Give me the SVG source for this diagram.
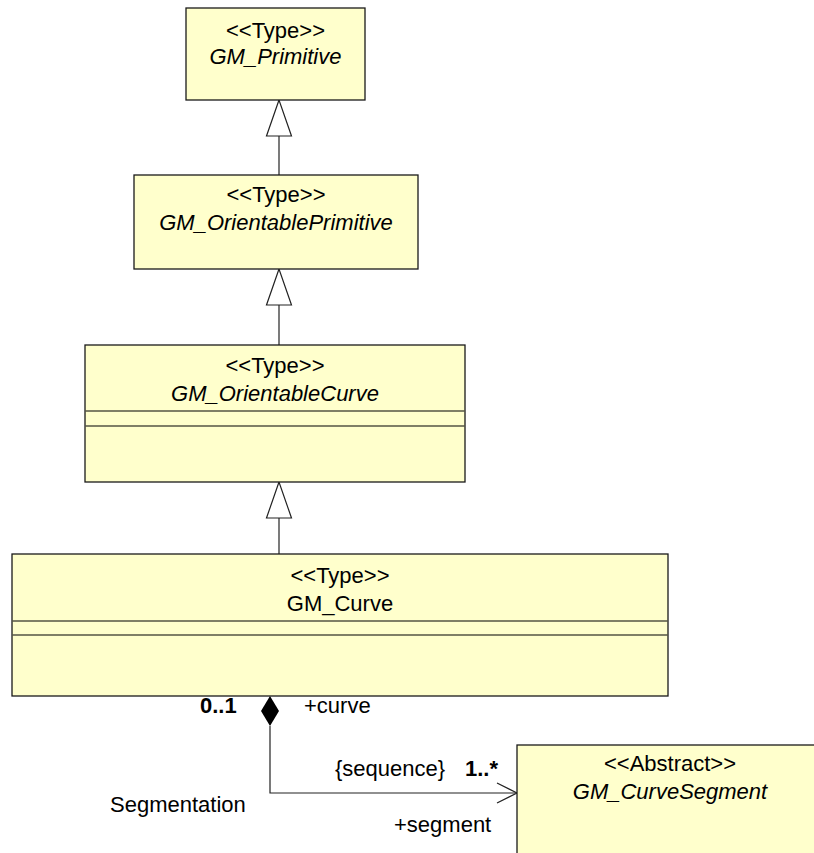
<svg xmlns="http://www.w3.org/2000/svg" width="814" height="853" viewBox="0 0 814 853">
<style>
.box{fill:#FFFFCC;stroke:#1a1a1a;stroke-width:1.3}
.div{stroke:#555544;stroke-width:1.3}
.t{font-family:"Liberation Sans",Arial,sans-serif;font-size:22px;fill:#000}
.c{text-anchor:middle}
.i{font-style:italic}
.b{font-weight:bold}
.ln{fill:none;stroke:#222;stroke-width:1.2}
.tri{fill:#fff;stroke:#222;stroke-width:1.2}
</style>
<rect width="814" height="853" fill="#fff"/>
<g id="connectors">
<line class="ln" x1="279" y1="136" x2="279" y2="175"/>
<polygon class="tri" points="279,100 266.5,136 291.5,136"/>
<line class="ln" x1="279" y1="305" x2="279" y2="345"/>
<polygon class="tri" points="279,269 266.5,305 291.5,305"/>
<line class="ln" x1="279" y1="518" x2="279" y2="554"/>
<polygon class="tri" points="279,482 266.5,518 291.5,518"/>
<polyline class="ln" points="270,726 270,793 517,793"/>
<polygon points="270,696 279,711 270,726 261,711" fill="#000"/>
<polyline class="ln" points="497,783 517,793 497,803"/>
<text class="t b" x="200" y="713">0..1</text>
<text class="t" x="304" y="713">+curve</text>
<text class="t" x="335" y="776">{sequence}</text>
<text class="t b" x="465" y="776">1..*</text>
<text class="t" x="110" y="812">Segmentation</text>
<text class="t" x="394" y="832">+segment</text>
</g>
<g id="GM_Primitive">
<rect class="box" x="186" y="8" width="179" height="92"/>
<text class="t c" x="275.5" y="38">&lt;&lt;Type&gt;&gt;</text>
<text class="t c i" x="275.5" y="64">GM_Primitive</text>
</g>
<g id="GM_OrientablePrimitive">
<rect class="box" x="134" y="175" width="284" height="94"/>
<text class="t c" x="276" y="202">&lt;&lt;Type&gt;&gt;</text>
<text class="t c i" x="276" y="230">GM_OrientablePrimitive</text>
</g>
<g id="GM_OrientableCurve">
<rect class="box" x="85" y="345" width="380" height="137"/>
<line class="div" x1="85" y1="411" x2="465" y2="411"/>
<line class="div" x1="85" y1="426" x2="465" y2="426"/>
<text class="t c" x="275" y="373">&lt;&lt;Type&gt;&gt;</text>
<text class="t c i" x="275" y="401">GM_OrientableCurve</text>
</g>
<g id="GM_Curve">
<rect class="box" x="12" y="554" width="656" height="142"/>
<line class="div" x1="12" y1="621" x2="668" y2="621"/>
<line class="div" x1="12" y1="635" x2="668" y2="635"/>
<text class="t c" x="340" y="583">&lt;&lt;Type&gt;&gt;</text>
<text class="t c" x="340" y="611">GM_Curve</text>
</g>
<g id="GM_CurveSegment">
<rect class="box" x="517" y="745" width="310" height="120"/>
<text class="t c" x="670" y="771">&lt;&lt;Abstract&gt;&gt;</text>
<text class="t c i" x="670" y="799">GM_CurveSegment</text>
</g>
</svg>
